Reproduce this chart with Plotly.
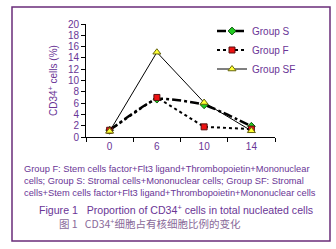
import plotly.graph_objects as go

days = ["0", "6", "10", "14"]
group_s = [1.2, 6.7, 5.7, 1.9]
group_f = [1.2, 7.0, 1.8, 1.4]
group_sf = [1.0, 15.0, 6.1, 1.1]
y_ticks = list(range(0, 21, 2))

PURPLE = "#6a3596"
FONT = "Liberation Sans, Arial, sans-serif"

L, R, T, B = 86, 61, 24, 112
W, H = 336, 249
pw, ph = W - L - R, H - T - B

def px(x):
    return (x - L) / pw

def py(y):
    return (H - B - y) / ph

fig = go.Figure()
fig.add_trace(go.Scatter(x=days, y=group_s, name="Group S", mode="lines+markers",
                         line=dict(color="black", width=2.5, dash="dashdot", shape="spline", smoothing=0.5),
                         marker=dict(symbol="diamond", size=6, color="#22cc22", line=dict(color="#115511", width=1))))
fig.add_trace(go.Scatter(x=days, y=group_f, name="Group F", mode="lines+markers",
                         line=dict(color="black", width=2, dash="dot"),
                         marker=dict(symbol="square", size=6, color="#ee1111", line=dict(color="#551111", width=1))))
fig.add_trace(go.Scatter(x=days, y=group_sf, name="Group SF", mode="lines+markers",
                         line=dict(color="black", width=1),
                         marker=dict(symbol="triangle-up", size=7, color="#ffff33", line=dict(color="#666611", width=1))))

fig.update_layout(
    width=W, height=H, margin=dict(l=L, r=R, t=T, b=B),
    paper_bgcolor="white", plot_bgcolor="white",
    font=dict(family=FONT, color=PURPLE, size=10),
    showlegend=True,
    legend=dict(x=px(212), y=py(50), xanchor="left", yanchor="middle",
                bgcolor="rgba(0,0,0,0)", font=dict(size=10, color=PURPLE),
                tracegroupgap=0, itemwidth=30),
    xaxis=dict(type="category", range=[-0.5, 3.5], showline=True, linecolor="black", linewidth=1,
               ticks="outside", tickson="boundaries", ticklen=4, tickcolor="black",
               showgrid=False, zeroline=False, tickfont=dict(size=10, color=PURPLE)),
    yaxis=dict(range=[0, 20], tickvals=y_ticks, showline=True, linecolor="black", linewidth=1,
               ticks="outside", ticklen=4, tickcolor="black", showgrid=False, zeroline=False,
               tickfont=dict(size=10, color=PURPLE),
               title=dict(text="CD34<sup>+</sup> cells (%)", font=dict(size=10, color=PURPLE), standoff=8)),
)

fig.add_shape(type="rect", xref="paper", yref="paper",
              x0=px(12), x1=px(330), y0=py(241), y1=py(7),
              line=dict(color="#6a2c7a", width=1.5), fillcolor="rgba(0,0,0,0)")

captions = [
    ("Group F: Stem cells factor+Flt3 ligand+Thrombopoietin+Mononuclear", 169),
    ("cells; Group S: Stromal cells+Mononuclear cells; Group SF: Stromal", 181),
    ("cells+Stem cells factor+Flt3 ligand+Thrombopoietin+Mononuclear cells", 193),
]
for text, yy in captions:
    fig.add_annotation(text=text, xref="paper", yref="paper", x=px(22), y=py(yy),
                       xanchor="left", yanchor="middle", showarrow=False,
                       font=dict(size=9.3, color=PURPLE, family=FONT))

fig.add_annotation(text="Figure 1   Proportion of CD34<sup>+</sup> cells in total nucleated cells",
                   xref="paper", yref="paper", x=px(37), y=py(209), xanchor="left", yanchor="middle",
                   showarrow=False, font=dict(size=10.6, color=PURPLE, family=FONT))
fig.add_annotation(text="图 1   CD34<sup>+</sup>细胞占有核细胞比例的变化",
                   xref="paper", yref="paper", x=px(57), y=py(223), xanchor="left", yanchor="middle",
                   showarrow=False, font=dict(size=10.5, color="#8a6a9a", family="Noto Sans CJK SC, sans-serif"))

fig.write_html("out.html", config={"displayModeBar": False},
               post_script="document.body.style.margin='0';")
